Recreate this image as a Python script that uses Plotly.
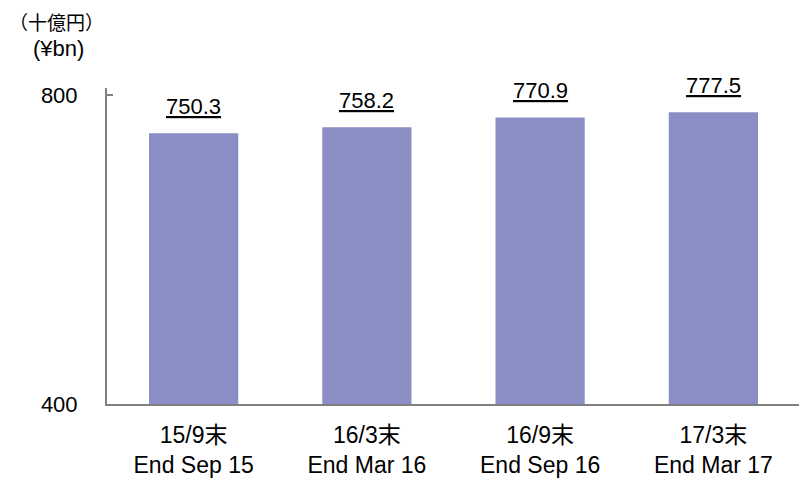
import plotly.graph_objects as go

categories = ["15/9末<br>End Sep 15", "16/3末<br>End Mar 16", "16/9末<br>End Sep 16", "17/3末<br>End Mar 17"]
values = [750.3, 758.2, 770.9, 777.5]
value_labels = ["750.3", "758.2", "770.9", "777.5"]
y_ticks = [400, 800]

FONT = "Liberation Sans, Arial, Noto Sans CJK JP, sans-serif"
BAR = "rgb(139,142,197)"
AXIS = "rgb(128,128,128)"

# page has an 8px body margin; plot area target: x 107..800, y 88..404
W, H = 799, 470
L, R, T, B = 99, 7, 80, 74
PW, PH = W - L - R, H - T - B
X0, Y0 = 8 + L, 8 + T


def px(x):
    return (x - X0) / PW


def py(y):
    return 1 - (y - Y0) / PH


fig = go.Figure()
fig.add_trace(go.Bar(x=categories, y=values, marker=dict(color=BAR, line=dict(width=0)),
                     width=0.515, hoverinfo="skip"))

for c, v, t in zip(categories, values, value_labels):
    fig.add_annotation(x=c, y=v, text="<u>" + t + "</u>", showarrow=False,
                       yanchor="bottom", yshift=12,
                       font=dict(family=FONT, size=22, color="black"))

fig.add_annotation(xref="paper", yref="paper", x=px(8), y=py(21),
                   xanchor="left", yanchor="middle", text="（十億円）", showarrow=False,
                   borderpad=0,
                   font=dict(family="Noto Sans CJK JP, sans-serif", size=19, color="black"))
fig.add_annotation(xref="paper", yref="paper", x=px(31), y=py(48),
                   xanchor="left", yanchor="middle", text="(¥bn)", showarrow=False,
                   font=dict(family=FONT, size=22, color="black"))

fig.update_layout(
    width=W, height=H,
    margin=dict(l=L, r=R, t=T, b=B, autoexpand=False),
    plot_bgcolor="white", paper_bgcolor="white",
    showlegend=False,
    bargap=0.485,
    font=dict(family=FONT, size=20, color="black"),
)
fig.update_xaxes(showline=True, linecolor=AXIS, linewidth=2, ticks="", showgrid=False,
                 tickfont=dict(family=FONT, size=23, color="black"),
                 ticklabelstandoff=9, fixedrange=True)
fig.update_yaxes(range=[400, 809], tickvals=y_ticks, ticktext=[str(v) for v in y_ticks],
                 showline=True, linecolor=AXIS, linewidth=2, ticks="inside", ticklen=6,
                 tickcolor=AXIS, tickwidth=1.5, showgrid=False, zeroline=False,
                 tickfont=dict(family=FONT, size=22, color="black"),
                 ticklabelstandoff=23, fixedrange=True)

fig.write_html("out.html")
